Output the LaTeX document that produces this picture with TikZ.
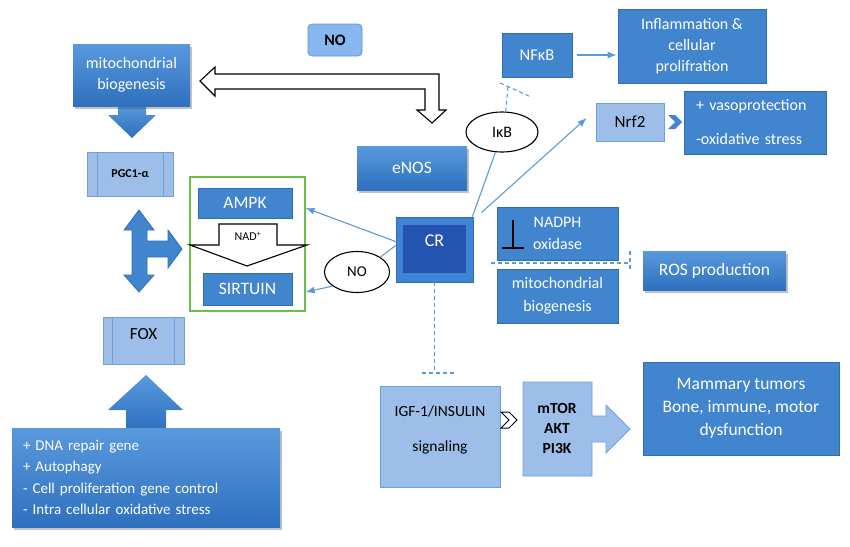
\documentclass[tikz,border=0pt]{standalone}
\usepackage{fontspec}
\setmainfont{Carlito}
\usetikzlibrary{shapes.geometric,shadows,arrows.meta}
\definecolor{midblue}{HTML}{4285CF}
\definecolor{midedge}{HTML}{2F6DB5}
\definecolor{lightfill}{HTML}{9CBEE8}
\definecolor{lightedge}{HTML}{6D9FDA}
\definecolor{darkfill}{HTML}{2453B2}
\definecolor{crfill}{HTML}{3F83D4}
\definecolor{linkblue}{HTML}{5B9BD5}
\definecolor{gradtop}{HTML}{5899DD}
\definecolor{gradbot}{HTML}{2F70BF}
\definecolor{notop}{HTML}{86B7EE}
\definecolor{greenedge}{HTML}{6CC04A}
\newcommand\fs[2]{\fontsize{#1pt}{#2pt}\selectfont}
\begin{document}
\begin{tikzpicture}[x=1pt,y=-1pt,
  box/.style={rectangle, inner sep=0pt, align=center},
  midbox/.style={box, fill=midblue, draw=midedge, line width=0.8pt, text=white},
  gradbox/.style={box, top color=gradtop, bottom color=gradbot, draw=none, text=white,
     drop shadow={shadow xshift=1.5pt, shadow yshift=-2.5pt, opacity=0.35, fill=black!70}},
  lightbox/.style={box, fill=lightfill, draw=lightedge, line width=0.8pt, text=black},
  bubble/.style={ellipse, draw=black, line width=1.1pt, fill=white, inner sep=0pt},
  link/.style={draw=linkblue, line width=1.1pt},
  linkarrow/.style={link, -{Latex[length=9pt,width=7pt]}},
  dashlink/.style={draw=linkblue, line width=1.1pt, dash pattern=on 4pt off 3pt},
  hollow/.style={draw=black, fill=white, line width=1.1pt, line join=miter},
  blockarrow/.style={top color=gradtop, bottom color=gradbot, draw=none}
]
\useasboundingbox (0,0) rectangle (850,546);

% ---------- left column ----------
\path[blockarrow] (118,104) -- (118,115) -- (108,115) -- (132,138) -- (156,115) -- (146,115) -- (146,104) -- cycle;
\node[gradbox, minimum width=117pt, minimum height=62pt, font=\fs{16}{21}] (mitoL) at (131.5,75) {mitochondrial\\biogenesis};

\node[lightbox, minimum width=86pt, minimum height=44pt, font=\bfseries\fs{12}{14}] (pgc) at (130,174) {PGC1-α};
\draw[lightedge, line width=0.8pt] ([xshift=11pt]pgc.north west) -- ([xshift=11pt]pgc.south west);
\draw[lightedge, line width=0.8pt] ([xshift=-10pt]pgc.north east) -- ([xshift=-10pt]pgc.south east);

\path[fill=midblue, draw=midedge, line width=0.8pt]
  (139,210) -- (154,230) -- (147,230) -- (147,241) -- (168,241) -- (168,230) -- (182,249)
  -- (168,268) -- (168,257) -- (147,257) -- (147,275) -- (154,275) -- (139,292)
  -- (124,275) -- (132,275) -- (132,230) -- (124,230) -- cycle;

\node[lightbox, minimum width=81pt, minimum height=47pt] (fox) at (143.5,340.5) {};
\draw[lightedge, line width=0.8pt] ([xshift=10pt]fox.north west) -- ([xshift=10pt]fox.south west);
\draw[lightedge, line width=0.8pt] ([xshift=-10pt]fox.north east) -- ([xshift=-10pt]fox.south east);
\node[font=\fs{17}{20}, text=black, inner sep=0pt] (foxlbl) at (143.5,334) {FOX};

\path[blockarrow] (126,430) -- (126,410) -- (108,410) -- (146,375) -- (183,410) -- (166,410) -- (166,430) -- cycle;
\node[gradbox, minimum width=268pt, minimum height=99pt, text width=246pt, align=left,
      font=\fs{15}{21.3}] (effects) at (146,477.5)
  {+ DNA repair gene\\+ Autophagy\\- Cell proliferation gene control\\- Intra cellular oxidative stress};

% ---------- top hollow arrow ----------
\node[box, fill=notop, draw=linkblue, line width=0.8pt, rounded corners=4pt,
      minimum width=54pt, minimum height=32pt, font=\bfseries\fs{16}{18}] (notop) at (335,40) {NO};
\path[hollow] (200,81) -- (215,67) -- (215,74) -- (439,74) -- (439,110) -- (446,110)
  -- (432,123) -- (417,110) -- (425,110) -- (425,89) -- (215,89) -- (215,96) -- cycle;
\node[gradbox, minimum width=110pt, minimum height=44pt, font=\fs{17.5}{20}] (enos) at (412,168) {eNOS};

% ---------- green group ----------
\node[draw=greenedge, line width=1.2pt, minimum width=115pt, minimum height=134pt, inner sep=0pt] (green) at (247.5,244) {};
\node[midbox, minimum width=94pt, minimum height=30pt, font=\fs{17.5}{20}] (ampk) at (245,203) {AMPK};
\path[hollow] (219,224) -- (277,224) -- (277,245) -- (307,245) -- (247,266) -- (190,245) -- (219,245) -- cycle;
\node[font=\fs{12}{14}, text=black, inner sep=0pt] (nad) at (248,236) {NAD\textsuperscript{+}};
\node[midbox, minimum width=89pt, minimum height=32pt, font=\fs{17.5}{20}] (sirt) at (247.5,289) {SIRTUIN};

% ---------- CR ----------
\node[box, fill=crfill, draw=midedge, line width=0.8pt, minimum width=77pt, minimum height=65pt] (cr) at (434.5,249.5) {};
\node[box, fill=darkfill, minimum width=63pt, minimum height=48pt] (crin) at (434.5,249) {};
\node[font=\fs{18}{20}, text=white, inner sep=0pt] (crlbl) at (434.5,241) {CR};

\node[bubble, minimum width=65pt, minimum height=41pt, font=\fs{15}{18}] (noell) at (357,272) {NO};
\node[bubble, minimum width=72pt, minimum height=40pt, font=\fs{16}{18}] (ikb) at (502,132) {IκB};

% ---------- right side ----------
\node[midbox, minimum width=70pt, minimum height=44pt, font=\fs{16.5}{19}] (nfkb) at (537,55) {NFκB};
\node[midbox, minimum width=148pt, minimum height=74pt, font=\fs{16}{21}] (infl) at (692,46) {Inflammation \&\\cellular\\prolifration};
\node[lightbox, minimum width=68pt, minimum height=38pt, font=\fs{17}{19}] (nrf2) at (630,122) {Nrf2};
\path[fill=midblue] (668,115) -- (675,115) -- (682,122) -- (675,129) -- (668,129) -- (675,122) -- cycle;
\node[midbox, minimum width=142pt, minimum height=63pt, text width=118pt, align=left, font=\fs{16}{34}] (vaso) at (755,122.5) {+ vasoprotection\\-oxidative stress};

\node[midbox, minimum width=121pt, minimum height=53pt, font=\fs{16}{22}] (nadph) at (557.5,233.5) {NADPH\\oxidase};
\draw[black, line width=1.3pt] (513,220) -- (513,248) (502,248) -- (524,248);
\node[midbox, minimum width=121pt, minimum height=54pt, font=\fs{16}{23}] (mitoR) at (557.5,296) {mitochondrial\\biogenesis};
\node[gradbox, minimum width=143pt, minimum height=39pt, font=\fs{17.5}{20}] (ros) at (714.5,270.5) {ROS production};

% ---------- bottom ----------
\node[lightbox, minimum width=120pt, minimum height=101pt] (igf) at (440,436.5) {};
\node[font=\fs{15.5}{35}, align=center, inner sep=0pt] (igflbl) at (440,429.5) {IGF-1/INSULIN\\signaling};
\path[hollow, line width=1pt] (501,412) -- (509,412) -- (517,420) -- (509,428) -- (501,428) -- (509,420) -- cycle;
\path[fill=lightfill, draw=lightedge, line width=0.8pt] (523,382) -- (592,382) -- (592,416) -- (606,416)
  -- (606,405) -- (630,429) -- (606,453) -- (606,442) -- (592,442) -- (592,476) -- (523,476) -- cycle;
\node[font=\bfseries\fs{15.5}{20}, align=center, inner sep=0pt] (mtor) at (557,428) {mTOR\\AKT\\PI3K};
\node[midbox, minimum width=196pt, minimum height=93pt, font=\fs{17.5}{23}] (mamm) at (741,408.5) {Mammary tumors\\Bone, immune, motor\\dysfunction};

% ---------- connectors ----------
\draw[linkarrow] ([yshift=8pt]cr.west) -- ([yshift=36pt]green.east);
\draw[link] ([yshift=4pt]cr.west) -- (noell.north east);
\draw[linkarrow] (noell.210) -- ([yshift=-48pt]green.east);
\draw[link] ([xshift=-1pt]cr.north east) -- (ikb.252);
\draw[linkarrow] ([xshift=8pt,yshift=4pt]cr.north east) -- ([xshift=-9pt,yshift=4pt]nrf2.west);
\draw[linkarrow] ([xshift=5pt]nfkb.east) -- ([xshift=-1pt,yshift=-9pt]infl.west);

\coordinate (tbarA) at (500,83);
\coordinate (tbarB) at (531,97);
\coordinate (tbarM) at (508,87);
\draw[dashlink] (ikb.80) -- (tbarM);
\draw[dashlink] (tbarA) -- (tbarB);

\coordinate (hdA) at (491,263);
\coordinate (hdB) at (630,263);
\draw[dashlink] (hdA) -- (hdB);
\draw[dashlink] ([yshift=12pt]hdB) -- ([yshift=-9pt]hdB);

\coordinate (vdB) at (cr.south |- 0,373);
\draw[dashlink] (cr.south) -- (vdB);
\draw[dashlink] ([xshift=-13pt]vdB) -- ([xshift=21pt]vdB);
\end{tikzpicture}
\end{document}
